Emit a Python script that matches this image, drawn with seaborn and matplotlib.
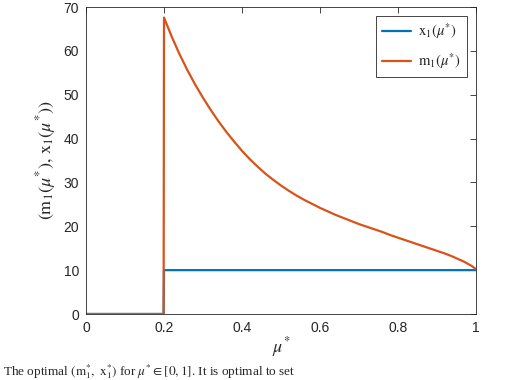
import numpy as np
import pandas as pd
import matplotlib
matplotlib.use("Agg")
import matplotlib.pyplot as plt
import seaborn as sns

# values
mu = [0.0, 0.1, 0.199, 0.2, 0.22, 0.24, 0.26, 0.28, 0.30, 0.32, 0.34, 0.36, 0.38,
      0.40, 0.42, 0.44, 0.46, 0.48, 0.50, 0.52, 0.54, 0.56, 0.58, 0.60, 0.62,
      0.64, 0.66, 0.68, 0.70, 0.72, 0.74, 0.76, 0.78, 0.80, 0.82, 0.84, 0.86,
      0.88, 0.90, 0.92, 0.94, 0.96, 0.97, 0.98, 0.99, 1.00]
m1 = [0.0, 0.0, 0.0, 67.6, 63.2, 59.2, 55.6, 52.3, 49.3, 46.5, 43.9, 41.5, 39.3,
      37.2, 35.3, 33.6, 32.0, 30.6, 29.3, 28.1, 27.0, 26.0, 25.1, 24.2, 23.4,
      22.6, 21.9, 21.2, 20.5, 19.9, 19.3, 18.7, 18.0, 17.4, 16.8, 16.2, 15.6,
      15.0, 14.4, 13.8, 13.1, 12.3, 11.9, 11.4, 10.9, 10.2]
mu_x = [0.0, 0.1, 0.199, 0.2, 0.6, 1.0]
x1 = [0.0, 0.0, 0.0, 10.0, 10.0, 10.0]

xticks = [0, 0.2, 0.4, 0.6, 0.8, 1]
xtick_labels = ['0', '0.2', '0.4', '0.6', '0.8', '1']
yticks = [0, 10, 20, 30, 40, 50, 60, 70]

sns.set_style("white")
plt.rcParams['font.family'] = ['Liberation Sans', 'DejaVu Sans']
plt.rcParams['mathtext.fontset'] = 'stix'

df_m = pd.DataFrame({'mu': mu, 'val': m1})
df_x = pd.DataFrame({'mu': mu_x, 'val': x1})

fig = plt.figure(figsize=(5.08, 3.80), dpi=100)
ax = fig.add_axes([86 / 508, 1 - 314 / 380, 390 / 508, 307 / 380])

sns.lineplot(data=df_x, x='mu', y='val', ax=ax, color='#0072BD', linewidth=1.6,
             estimator=None, sort=False, label=r'$\mathrm{x}_1(\mu^{*})$')
sns.lineplot(data=df_m, x='mu', y='val', ax=ax, color='#D95319', linewidth=1.6,
             estimator=None, sort=False, label=r'$\mathrm{m}_1(\mu^{*})$')

ax.set_xlim(0, 1)
ax.set_ylim(0, 70)
ax.set_xticks(xticks)
ax.set_xticklabels(xtick_labels)
ax.set_yticks(yticks)
ax.tick_params(direction='in', length=4, width=0.6, colors='#262626',
               labelsize=10, top=True, right=True)
ax.tick_params(axis='x', pad=5)
ax.tick_params(axis='y', pad=5)
for s in ax.spines.values():
    s.set_color('#262626')
    s.set_linewidth(0.6)

ax.set_xlabel(r'$\mu^{*}$', fontsize=13, labelpad=0)
ax.set_ylabel(r'$(\mathrm{m}_1(\mu^{*}), \,\mathrm{x}_1(\mu^{*}))$', fontsize=13, labelpad=4)

leg = ax.legend(loc='upper right', fontsize=10.5, fancybox=False, framealpha=1,
                edgecolor='#262626', handlelength=2.0, labelspacing=0.7,
                borderaxespad=0.6, handletextpad=0.5)
leg.get_frame().set_linewidth(0.6)

# caption line below the chart
fig.text(0.005, 1 - 362 / 380,
         r'The optimal $(\mathrm{m}_1^{*},\ \mathrm{x}_1^{*})$ for $\mu^{*}\in[0,1]$. It is optimal to set',
         fontsize=9.5, va='top', ha='left', family='Liberation Serif')

fig.savefig('out.png', dpi=100)
